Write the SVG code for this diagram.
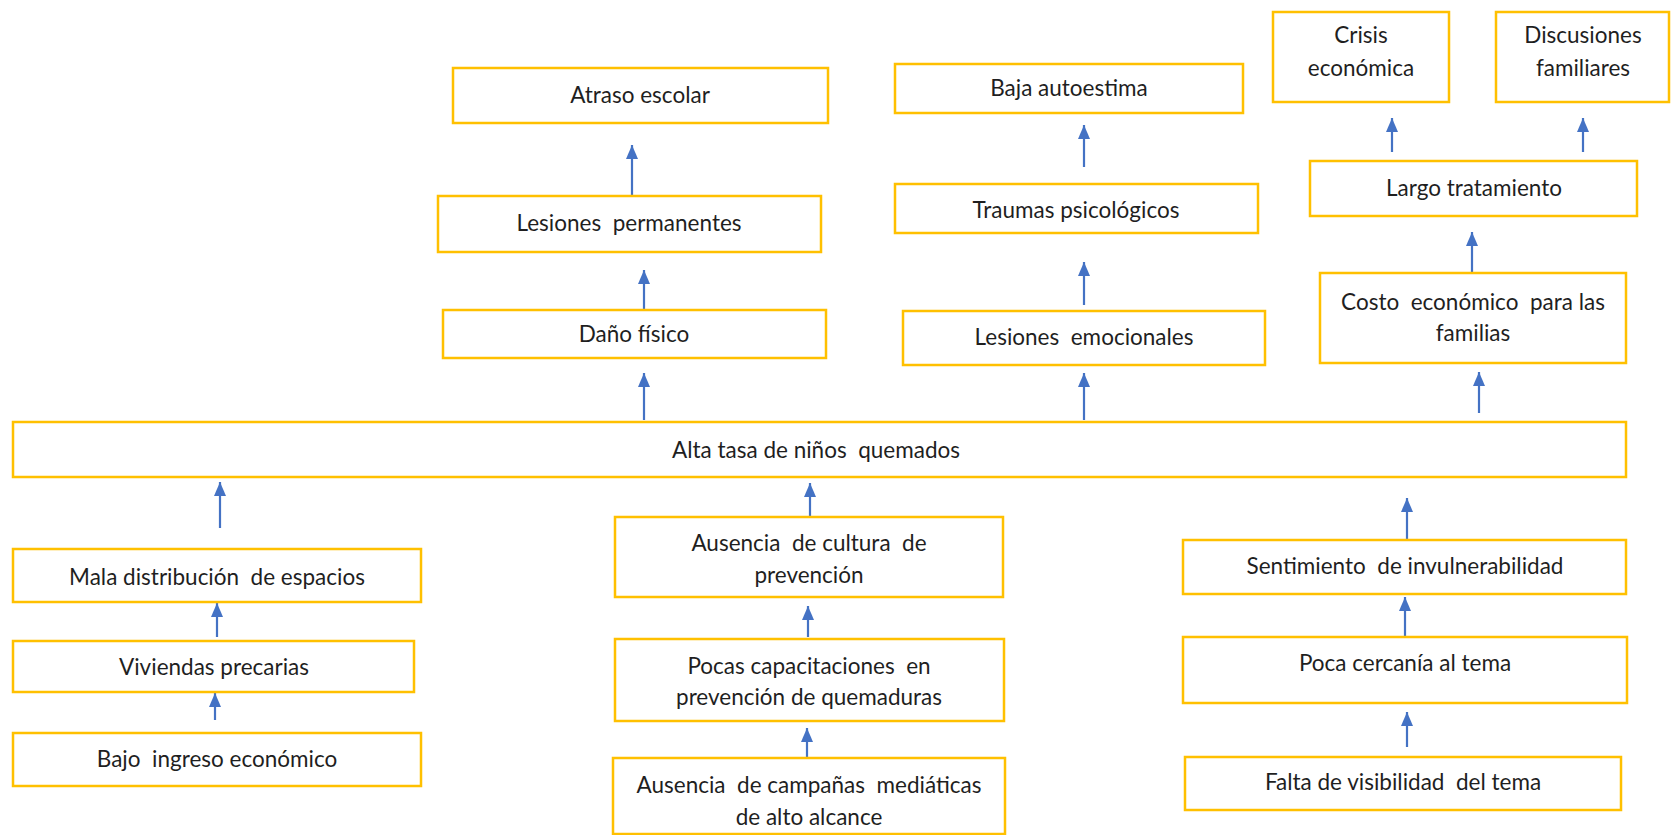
<svg xmlns="http://www.w3.org/2000/svg" width="1671" height="835" viewBox="0 0 1671 835">
<style>
.box{fill:#ffffff;stroke:#FFC000;stroke-width:2.5}
.t{font-family:Lato,"Liberation Sans",sans-serif;font-size:22.5px;fill:#1f1f1f;text-anchor:middle;white-space:pre}
.c{stroke:#4472C4;stroke-width:2.2;fill:none;marker-end:url(#ah)}
</style>
<defs>
<marker id="ah" markerUnits="userSpaceOnUse" markerWidth="14" markerHeight="12" refX="14" refY="6" orient="auto">
<path d="M0,0 L14,6 L0,12 z" fill="#4472C4"/>
</marker>
</defs>
<rect width="1671" height="835" fill="#ffffff"/>
<g id="connectors">
<line class="c" x1="632" y1="196" x2="632" y2="145"/>
<line class="c" x1="644" y1="310" x2="644" y2="270"/>
<line class="c" x1="644" y1="420" x2="644" y2="373"/>
<line class="c" x1="1084" y1="167" x2="1084" y2="125"/>
<line class="c" x1="1084" y1="305" x2="1084" y2="262"/>
<line class="c" x1="1084" y1="420" x2="1084" y2="373"/>
<line class="c" x1="1392" y1="152" x2="1392" y2="118"/>
<line class="c" x1="1583" y1="152" x2="1583" y2="118"/>
<line class="c" x1="1472" y1="273" x2="1472" y2="232"/>
<line class="c" x1="1479" y1="413" x2="1479" y2="372"/>
<line class="c" x1="220" y1="528" x2="220" y2="482"/>
<line class="c" x1="217" y1="637" x2="217" y2="603"/>
<line class="c" x1="215" y1="720" x2="215" y2="693"/>
<line class="c" x1="810" y1="517" x2="810" y2="483"/>
<line class="c" x1="808" y1="637" x2="808" y2="606"/>
<line class="c" x1="807" y1="758" x2="807" y2="728"/>
<line class="c" x1="1407" y1="540" x2="1407" y2="498"/>
<line class="c" x1="1405" y1="637" x2="1405" y2="597"/>
<line class="c" x1="1407" y1="747" x2="1407" y2="712"/>
</g>
<g id="n1"><rect class="box" x="453" y="68" width="375" height="55"/><text class="t" x="640" y="103">Atraso escolar</text></g>
<g id="n2"><rect class="box" x="438" y="196" width="383" height="56"/><text class="t" x="629" y="231">Lesiones  permanentes</text></g>
<g id="n3"><rect class="box" x="443" y="310" width="383" height="48"/><text class="t" x="634" y="342">Daño físico</text></g>
<g id="n4"><rect class="box" x="895" y="64" width="348" height="49"/><text class="t" x="1069" y="96">Baja autoestima</text></g>
<g id="n5"><rect class="box" x="895" y="184" width="363" height="49"/><text class="t" x="1076" y="218">Traumas psicológicos</text></g>
<g id="n6"><rect class="box" x="903" y="311" width="362" height="54"/><text class="t" x="1084" y="345">Lesiones  emocionales</text></g>
<g id="n7"><rect class="box" x="1273" y="12" width="176" height="90"/><text class="t" x="1361" y="43">Crisis</text><text class="t" x="1361" y="76">económica</text></g>
<g id="n8"><rect class="box" x="1496" y="12" width="173" height="90"/><text class="t" x="1583" y="43">Discusiones</text><text class="t" x="1583" y="76">familiares</text></g>
<g id="n9"><rect class="box" x="1310" y="161" width="327" height="55"/><text class="t" x="1474" y="196">Largo tratamiento</text></g>
<g id="n10"><rect class="box" x="1320" y="273" width="306" height="90"/><text class="t" x="1473" y="310">Costo  económico  para las</text><text class="t" x="1473" y="341">familias</text></g>
<g id="n11"><rect class="box" x="13" y="422" width="1613" height="55"/><text class="t" x="816" y="458">Alta tasa de niños  quemados</text></g>
<g id="n12"><rect class="box" x="13" y="549" width="408" height="53"/><text class="t" x="217" y="585">Mala distribución  de espacios</text></g>
<g id="n13"><rect class="box" x="13" y="641" width="401" height="51"/><text class="t" x="214" y="675">Viviendas precarias</text></g>
<g id="n14"><rect class="box" x="13" y="733" width="408" height="53"/><text class="t" x="217" y="767">Bajo  ingreso económico</text></g>
<g id="n15"><rect class="box" x="615" y="517" width="388" height="80"/><text class="t" x="809" y="551">Ausencia  de cultura  de</text><text class="t" x="809" y="583">prevención</text></g>
<g id="n16"><rect class="box" x="615" y="639" width="389" height="82"/><text class="t" x="809" y="674">Pocas capacitaciones  en</text><text class="t" x="809" y="705">prevención de quemaduras</text></g>
<g id="n17"><rect class="box" x="613" y="758" width="392" height="76"/><text class="t" x="809" y="793">Ausencia  de campañas  mediáticas</text><text class="t" x="809" y="825">de alto alcance</text></g>
<g id="n18"><rect class="box" x="1183" y="540" width="443" height="54"/><text class="t" x="1405" y="574">Sentimiento  de invulnerabilidad</text></g>
<g id="n19"><rect class="box" x="1183" y="637" width="444" height="66"/><text class="t" x="1405" y="671">Poca cercanía al tema</text></g>
<g id="n20"><rect class="box" x="1185" y="757" width="436" height="53"/><text class="t" x="1403" y="790">Falta de visibilidad  del tema</text></g>
</svg>
